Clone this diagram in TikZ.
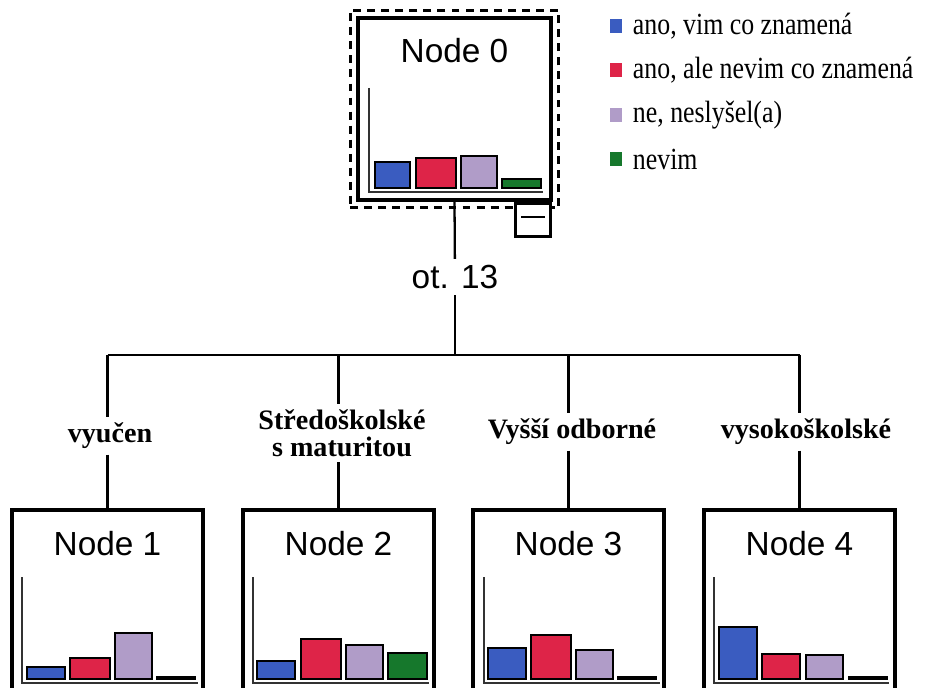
\documentclass[tikz,border=0pt]{standalone}
\usepackage{fontspec}
\setmainfont{Liberation Serif}
\setsansfont{Liberation Sans}
\newfontfamily\legendfont[FakeStretch=0.84]{Liberation Serif}
\usetikzlibrary{positioning, fit}

\definecolor{barblue}{RGB}{58,92,192}
\definecolor{barred}{RGB}{222,36,72}
\definecolor{barlilac}{RGB}{176,156,200}
\definecolor{bargreen}{RGB}{22,120,44}

\begin{document}
\begin{tikzpicture}[
    x=0.02cm, y=-0.02cm,
    treebox/.style={rectangle, draw, line width=2.2pt, minimum width=3.82cm, minimum height=3.8cm, inner sep=0pt},
    dashbox/.style={rectangle, draw, line width=1.8pt, dash pattern=on 4.5pt off 3.5pt, inner sep=3.4pt},
    title/.style={font=\sffamily\fontsize{19}{22}\selectfont},
    branch/.style={font=\fontsize{16}{15.5}\selectfont\bfseries, align=center, inner sep=3pt},
    edge/.style={line width=1.3pt},
    axis/.style={line width=1.3pt, draw=black!80},
    bar/.style={draw, line width=1.2pt},
    legsq/.style={rectangle, minimum width=0.25cm, minimum height=0.28cm, inner sep=0pt},
    legtxt/.style={font=\legendfont\fontsize{17.5}{18}\selectfont, anchor=west, inner sep=0pt}
]
    \useasboundingbox (0,0) rectangle (925,688);

    % Root node with histogram
    \node (n0) [treebox, minimum width=3.86cm, minimum height=3.64cm] at (454.5,109) {};
    \node (t0) [title] at ([yshift=-0.68cm]n0.north) {Node 0};
    \node (d0) [dashbox, fit=(n0)] {};
    \node (s0) [rectangle, draw, fill=white, line width=1.6pt, minimum width=0.7cm, minimum height=0.66cm, inner sep=0pt, anchor=north east] at ([xshift=-0.02cm]n0.south east) {};
    \draw [line width=1.6pt] ([xshift=0.14cm, yshift=-0.3cm]s0.north west) -- ([xshift=-0.14cm, yshift=-0.3cm]s0.north east);
    \draw [axis] (369,88) -- (369,192) -- (543,192);
    \draw [bar, fill=barblue] (375,162) rectangle (410,188);
    \draw [bar, fill=barred] (416,158) rectangle (456,188);
    \draw [bar, fill=barlilac] (461,156) rectangle (497,188);
    \draw [bar, fill=bargreen] (502,179) rectangle (541,188);

    % Legend
    \node (k1) [legsq, fill=barblue] at (616,26) {};
    \node (k2) [legsq, fill=barred] at (616,70) {};
    \node (k3) [legsq, fill=barlilac] at (616,115) {};
    \node (k4) [legsq, fill=bargreen] at (616,159) {};
    \node (k1t) [legtxt, right=0.2cm of k1] {ano, vim co znamená};
    \node (k2t) [legtxt, right=0.2cm of k2] {ano, ale nevim co znamená};
    \node (k3t) [legtxt, right=0.2cm of k3] {ne, neslyšel(a)};
    \node (k4t) [legtxt, right=0.2cm of k4] {nevim};

    % Split variable
    \node (split) [title] at (455,277) {ot. 13};
    \coordinate (bus) at (455,355);

    % Child nodes
    \node (n1) [treebox] at (107.5,605) {};
    \node (n2) [treebox] at (338.5,605) {};
    \node (n3) [treebox] at (568.5,605) {};
    \node (n4) [treebox] at (799.5,605) {};
    \node (t1) [title] at ([yshift=-0.7cm]n1.north) {Node 1};
    \node (t2) [title] at ([yshift=-0.7cm]n2.north) {Node 2};
    \node (t3) [title] at ([yshift=-0.7cm]n3.north) {Node 3};
    \node (t4) [title] at ([yshift=-0.7cm]n4.north) {Node 4};

    % Branch labels
    \node (l1) [branch] at (110,436) {vyučen};
    \node (l2) [branch] at (342,433) {Středoškolské\\s maturitou};
    \node (l3) [branch] at (572,432) {Vyšší odborné};
    \node (l4) [branch] at (806,432) {vysokoškolské};

    % Connectors
    \draw [edge] (n0.south) -- (split);
    \draw [edge] (split) -- (bus);
    \draw [edge] (n1.north |- bus) -- (n4.north |- bus);
    \draw [edge] (n1.north |- bus) -- (n1.north |- l1.north);
    \draw [edge] (n1.north |- l1.south) -- (n1.north);
    \draw [edge] (n2.north |- bus) -- (n2.north |- l2.north);
    \draw [edge] (n2.north |- l2.south) -- (n2.north);
    \draw [edge] (n3.north |- bus) -- (n3.north |- l3.north);
    \draw [edge] (n3.north |- l3.south) -- (n3.north);
    \draw [edge] (n4.north |- bus) -- (n4.north |- l4.north);
    \draw [edge] (n4.north |- l4.south) -- (n4.north);

    % Child histograms
    \draw [axis] (22,577) -- (22,683) -- (198,683);
    \draw [bar, fill=barblue] (27,667) rectangle (65,679);
    \draw [bar, fill=barred] (70,658) rectangle (110,679);
    \draw [bar, fill=barlilac] (115,633) rectangle (152,679);
    \draw [bar, fill=black] (157,677) rectangle (195,679);

    \draw [axis] (253,577) -- (253,683) -- (429,683);
    \draw [bar, fill=barblue] (257,661) rectangle (295,679);
    \draw [bar, fill=barred] (301,639) rectangle (341,679);
    \draw [bar, fill=barlilac] (346,645) rectangle (383,679);
    \draw [bar, fill=bargreen] (388,653) rectangle (427,679);

    \draw [axis] (484,577) -- (484,683) -- (660,683);
    \draw [bar, fill=barblue] (488,648) rectangle (526,679);
    \draw [bar, fill=barred] (531,635) rectangle (571,679);
    \draw [bar, fill=barlilac] (576,650) rectangle (613,679);
    \draw [bar, fill=black] (618,677) rectangle (656,679);

    \draw [axis] (714,577) -- (714,683) -- (889,683);
    \draw [bar, fill=barblue] (719,627) rectangle (757,679);
    \draw [bar, fill=barred] (762,654) rectangle (800,679);
    \draw [bar, fill=barlilac] (806,655) rectangle (843,679);
    \draw [bar, fill=black] (849,677) rectangle (887,679);
\end{tikzpicture}
\end{document}
